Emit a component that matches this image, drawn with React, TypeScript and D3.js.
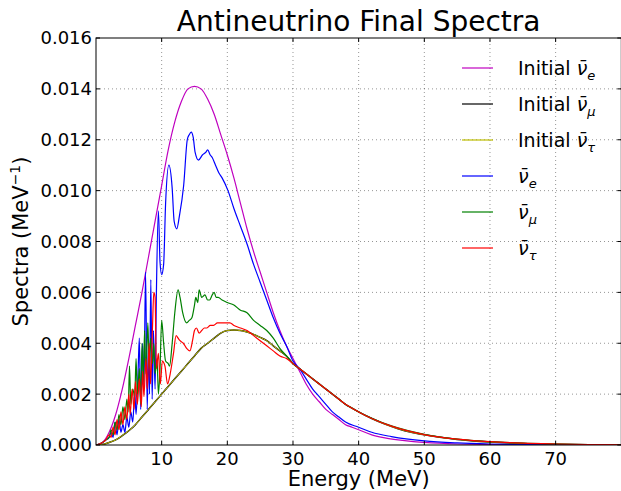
import * as d3 from "d3";

const width = 621;
const height = 491;
const margin = { top: 38, right: -0.3, bottom: 46, left: 96 };

// ── Data ────────────────────────────────────────────────
const initialE = [
  0, 1, 2, 3, 4, 5, 6, 7, 8, 9, 10, 11, 12, 13, 14, 15, 16, 17, 18, 19, 20,
  21, 22, 23, 24, 25, 26, 27, 28, 29, 30, 31, 32, 33, 34, 35, 36, 37, 38, 39, 40,
  42, 44, 46, 48, 50, 55, 60, 65, 70, 75, 80,
];
const initialNueBar = [
  0, 0.0001, 0.0005, 0.0012, 0.0022, 0.0034, 0.0047, 0.006, 0.0074, 0.0088, 0.0102,
  0.0116, 0.0127, 0.0135, 0.014, 0.0141, 0.014, 0.0136, 0.013, 0.0122, 0.0114,
  0.0105, 0.0095, 0.0085, 0.0076, 0.0068, 0.006, 0.0052, 0.0045, 0.0039, 0.0034,
  0.0029, 0.0024, 0.002, 0.0017, 0.0014, 0.0012, 0.001, 0.0008, 0.0007, 0.0006,
  0.0004, 0.00028, 0.0002, 0.00014, 0.0001, 0.00004, 0.00002, 0.00001, 0, 0, 0,
];
// initial nu_mu bar and nu_tau bar are identical
const initialNuxBar = [
  0, 0.00002, 0.0001, 0.0002, 0.00037, 0.00056, 0.0008, 0.0011, 0.0014, 0.0017, 0.002,
  0.0023, 0.0026, 0.0029, 0.0032, 0.0035, 0.0038, 0.004, 0.0042, 0.0044, 0.0045,
  0.00452, 0.0045, 0.00444, 0.00435, 0.00423, 0.0041, 0.0039, 0.0037, 0.0035, 0.0032,
  0.003, 0.0028, 0.0026, 0.0024, 0.0022, 0.002, 0.0018, 0.0016, 0.00145, 0.0013,
  0.00104, 0.00082, 0.00064, 0.0005, 0.0004, 0.00022, 0.00012, 0.00006, 0.00003, 0.00001, 0,
];

const nueBarE = [
  0, 1, 1.5, 2, 2.3, 2.6, 2.9, 3.2, 3.5, 3.8, 4.1, 4.4, 4.7, 5, 5.3, 5.6, 5.9, 6.1,
  6.4, 6.6, 6.8, 7.1, 7.3, 7.55, 7.8, 8, 8.15, 8.35, 8.55, 8.75, 9, 9.2, 9.5, 9.75,
  10, 10.3, 10.6, 11.1, 11.6, 11.9, 12.3, 12.7, 13.35, 13.9, 14.2, 14.5, 14.8, 15.1,
  15.6, 16.2, 16.7, 17, 17.4, 17.7, 18.2, 18.7, 19.2, 20.1, 21, 22, 23, 24, 25, 26,
  27, 28, 29, 30, 31, 32, 33, 34, 35, 36, 37, 38, 40, 42, 45, 50, 55, 60, 65, 70, 80,
];
const nueBar = [
  0, 0.0001, 0.0002, 0.0003, 0.0005, 0.0003, 0.0009, 0.0004, 0.001, 0.0005, 0.0008,
  0.0005, 0.0011, 0.0007, 0.0013, 0.0009, 0.0021, 0.0012, 0.0028, 0.0042, 0.0014, 0.004,
  0.0022, 0.0068, 0.0014, 0.004, 0.002, 0.0065, 0.0018, 0.0045, 0.0022, 0.006, 0.0092,
  0.0072, 0.0067, 0.0071, 0.0095, 0.011, 0.0101, 0.0088, 0.0085, 0.009, 0.0102, 0.012,
  0.0122, 0.0123, 0.0121, 0.0115, 0.0112, 0.0114, 0.0115, 0.0116, 0.0114, 0.0113,
  0.011, 0.0107, 0.0105, 0.01, 0.0093, 0.0086, 0.0079, 0.0071, 0.0064, 0.0057, 0.005,
  0.0044, 0.0039, 0.0033, 0.003, 0.0026, 0.0022, 0.0019, 0.0016, 0.0013, 0.0011,
  0.0009, 0.0007, 0.0005, 0.00033, 0.00016, 0.00008, 0.00004, 0.00002, 0.00001, 0,
];

const numuBarE = [
  0, 1, 1.5, 2, 2.3, 2.6, 2.9, 3.2, 3.5, 3.8, 4.1, 4.4, 4.7, 4.9, 5.1, 5.3, 5.6, 5.9,
  6.1, 6.3, 6.6, 6.8, 7, 7.2, 7.4, 7.6, 7.9, 8.1, 8.3, 8.6, 8.8, 9, 9.3, 9.5, 9.75, 10,
  10.3, 10.6, 11, 11.2, 11.6, 12, 12.5, 12.8, 13.2, 13.8, 14.2, 14.6, 15, 15.2, 15.5,
  15.7, 16.1, 16.6, 17, 17.3, 17.7, 18, 18.3, 18.6, 19.2, 20, 21, 22, 23, 24, 25, 26,
  27, 28, 29, 30, 31, 32, 33, 34, 35, 36, 37, 38, 40, 42, 45, 50, 55, 60, 65, 70, 75, 80,
];
const numuBar = [
  0, 0.0001, 0.0002, 0.0003, 0.0006, 0.0004, 0.0009, 0.0006, 0.0012, 0.0008, 0.0015,
  0.001, 0.0018, 0.0013, 0.0031, 0.0016, 0.0022, 0.0019, 0.0034, 0.002, 0.003, 0.0016,
  0.004, 0.0025, 0.0045, 0.0028, 0.0048, 0.003, 0.0042, 0.0032, 0.004, 0.0028, 0.0034,
  0.002, 0.003, 0.0049, 0.004, 0.0033, 0.0032, 0.0031, 0.004, 0.0052, 0.0061, 0.0058,
  0.0052, 0.0048, 0.0049, 0.005, 0.0055, 0.0058, 0.0056, 0.0061, 0.0058, 0.0059,
  0.0057, 0.0057, 0.0059, 0.006, 0.0058, 0.0058, 0.0057, 0.0056, 0.0055, 0.0053,
  0.0052, 0.0049, 0.0047, 0.0045, 0.0042, 0.0038, 0.0035, 0.0032, 0.003, 0.0028,
  0.0026, 0.0024, 0.0022, 0.002, 0.0018, 0.0016, 0.0013, 0.00105, 0.00075, 0.00042,
  0.00023, 0.00013, 0.00007, 0.00004, 0.00002, 0.00001,
];

const nutauBarE = [
  0, 1, 1.5, 2, 2.3, 2.6, 2.9, 3.2, 3.5, 3.8, 4.1, 4.4, 4.7, 5, 5.2, 5.5, 5.8, 6, 6.3,
  6.6, 6.9, 7.1, 7.3, 7.6, 7.8, 8.1, 8.3, 8.6, 8.8, 9, 9.2, 9.5, 9.8, 10.1, 10.5, 10.9,
  11.3, 11.8, 12.2, 12.5, 12.8, 13.3, 13.8, 14.3, 14.7, 15, 15.3, 15.7, 16.1, 16.5,
  16.9, 17.4, 17.9, 18.5, 19, 19.6, 20.4, 21, 22, 23, 24, 25, 26, 27, 28, 29, 30, 31,
  32, 33, 34, 35, 36, 37, 38, 40, 42, 45, 50, 55, 60, 65, 70, 75, 80,
];
const nutauBar = [
  0, 0.0001, 0.0002, 0.0004, 0.0003, 0.0007, 0.0004, 0.001, 0.0006, 0.0013, 0.0008,
  0.0015, 0.001, 0.002, 0.0012, 0.0022, 0.0014, 0.0025, 0.0016, 0.0026, 0.0015, 0.0029,
  0.0019, 0.0034, 0.0022, 0.004, 0.0024, 0.0046, 0.006, 0.0058, 0.003, 0.0036, 0.0024,
  0.0033, 0.0031, 0.0024, 0.0028, 0.0036, 0.0043, 0.0042, 0.0041, 0.004, 0.0038,
  0.0037, 0.0041, 0.0045, 0.0046, 0.0044, 0.0045, 0.0046, 0.0046, 0.0047, 0.0047,
  0.0048, 0.0048, 0.0048, 0.0048, 0.0047, 0.0046, 0.0045, 0.0043, 0.0041, 0.0039,
  0.0037, 0.0035, 0.0034, 0.0032, 0.003, 0.0028, 0.0026, 0.0024, 0.0022, 0.002, 0.0018,
  0.0016, 0.0013, 0.00104, 0.00074, 0.00041, 0.00023, 0.00013, 0.00007, 0.00004,
  0.00002, 0.00001,
];

const xTicks = [10, 20, 30, 40, 50, 60, 70];
const yTicks = [0, 0.002, 0.004, 0.006, 0.008, 0.01, 0.012, 0.014, 0.016];

const series = [
  { prefix: "Initial ", sub: "e", color: "#bf00bf", w: 1.2, xs: initialE, ys: initialNueBar },
  { prefix: "Initial ", sub: "μ", color: "#000000", w: 1.5, xs: initialE, ys: initialNuxBar },
  { prefix: "Initial ", sub: "τ", color: "#bfbf00", w: 1.0, xs: initialE, ys: initialNuxBar },
  { prefix: "", sub: "e", color: "#0000ff", w: 1.2, xs: nueBarE, ys: nueBar },
  { prefix: "", sub: "μ", color: "#008000", w: 1.2, xs: numuBarE, ys: numuBar },
  { prefix: "", sub: "τ", color: "#ff0000", w: 1.2, xs: nutauBarE, ys: nutauBar },
];

const font = "'DejaVu Sans', sans-serif";

export default function App() {
  const x = d3.scaleLinear().domain([0, 80]).range([margin.left, width - margin.right]);
  const y = d3.scaleLinear().domain([0, 0.016]).range([height - margin.bottom, margin.top]);
  const [x0, x1] = x.range();
  const [y0, y1] = y.range();

  const line = (xs: number[], ys: number[]) =>
    d3
      .line<number>()
      .x((_, i) => x(xs[i]))
      .y((v) => y(v))
      .curve(d3.curveMonotoneX)(ys) ?? "";

  return (
    <svg
      width={width}
      height={height}
      style={{ position: "absolute", left: 0, top: 0, background: "#fff" }}
      fontFamily={font}
    >
      <defs>
        <clipPath id="plot">
          <rect x={x0} y={y1} width={x1 - x0} height={y0 - y1} />
        </clipPath>
      </defs>

      {/* grid */}
      <g stroke="#000" strokeOpacity={0.7} strokeWidth={0.6} strokeDasharray="1,3">
        {xTicks.map((t) => (
          <line key={"gx" + t} x1={x(t)} x2={x(t)} y1={y0} y2={y1} />
        ))}
        {yTicks.slice(1, -1).map((t) => (
          <line key={"gy" + t} x1={x0} x2={x1} y1={y(t)} y2={y(t)} />
        ))}
      </g>

      {/* curves */}
      <g clipPath="url(#plot)" fill="none">
        {series.map((s, i) => (
          <path key={i} d={line(s.xs, s.ys)} stroke={s.color} strokeWidth={s.w} />
        ))}
      </g>

      {/* ticks, inward on every side */}
      <g stroke="#000" strokeWidth={1}>
        {xTicks.map((t) => (
          <g key={"tx" + t}>
            <line x1={x(t)} x2={x(t)} y1={y0} y2={y0 - 4} />
            <line x1={x(t)} x2={x(t)} y1={y1} y2={y1 + 4} />
          </g>
        ))}
        {yTicks.map((t) => (
          <g key={"ty" + t}>
            <line x1={x0} x2={x0 + 4} y1={y(t)} y2={y(t)} />
            <line x1={x1} x2={x1 - 4} y1={y(t)} y2={y(t)} />
          </g>
        ))}
      </g>

      {/* frame */}
      <rect x={x0} y={y1} width={x1 - x0} height={y0 - y1} fill="none" stroke="#000" strokeWidth={1} />

      {/* tick labels */}
      <g fontSize={18} fill="#000">
        {xTicks.map((t) => (
          <text key={"lx" + t} x={x(t)} y={465} textAnchor="middle">
            {t}
          </text>
        ))}
        {yTicks.map((t) => (
          <text key={"ly" + t} x={x0 - 4} y={y(t)} dy="0.36em" textAnchor="end">
            {d3.format(".3f")(t)}
          </text>
        ))}
      </g>

      {/* title and axis labels */}
      <text x={(x0 + x1) / 2} y={31} fontSize={28} textAnchor="middle">
        Antineutrino Final Spectra
      </text>
      <text x={(x0 + x1) / 2} y={486} fontSize={21} textAnchor="middle">
        Energy (MeV)
      </text>
      <text transform={`translate(28, ${(y0 + y1) / 2}) rotate(-90)`} fontSize={21} textAnchor="middle">
        Spectra (MeV
        <tspan fontSize={14} dy={-8}>−1</tspan>
        <tspan dy={8}>)</tspan>
      </text>

      {/* legend, no frame */}
      <g>
        {series.map((s, i) => {
          const ly = 68 + i * 36;
          return (
            <g key={"lg" + i}>
              <line x1={462} x2={493} y1={ly} y2={ly} stroke={s.color} strokeWidth={1.2} />
              <text x={518} y={ly + 6.6} fontSize={19} fill="#000">
                {s.prefix}
                <tspan fontStyle="italic">{"\u03BD\u0304"}</tspan>
                <tspan fontStyle="italic" fontSize={13} dy={5}>
                  {s.sub}
                </tspan>
              </text>
            </g>
          );
        })}
      </g>
    </svg>
  );
}
